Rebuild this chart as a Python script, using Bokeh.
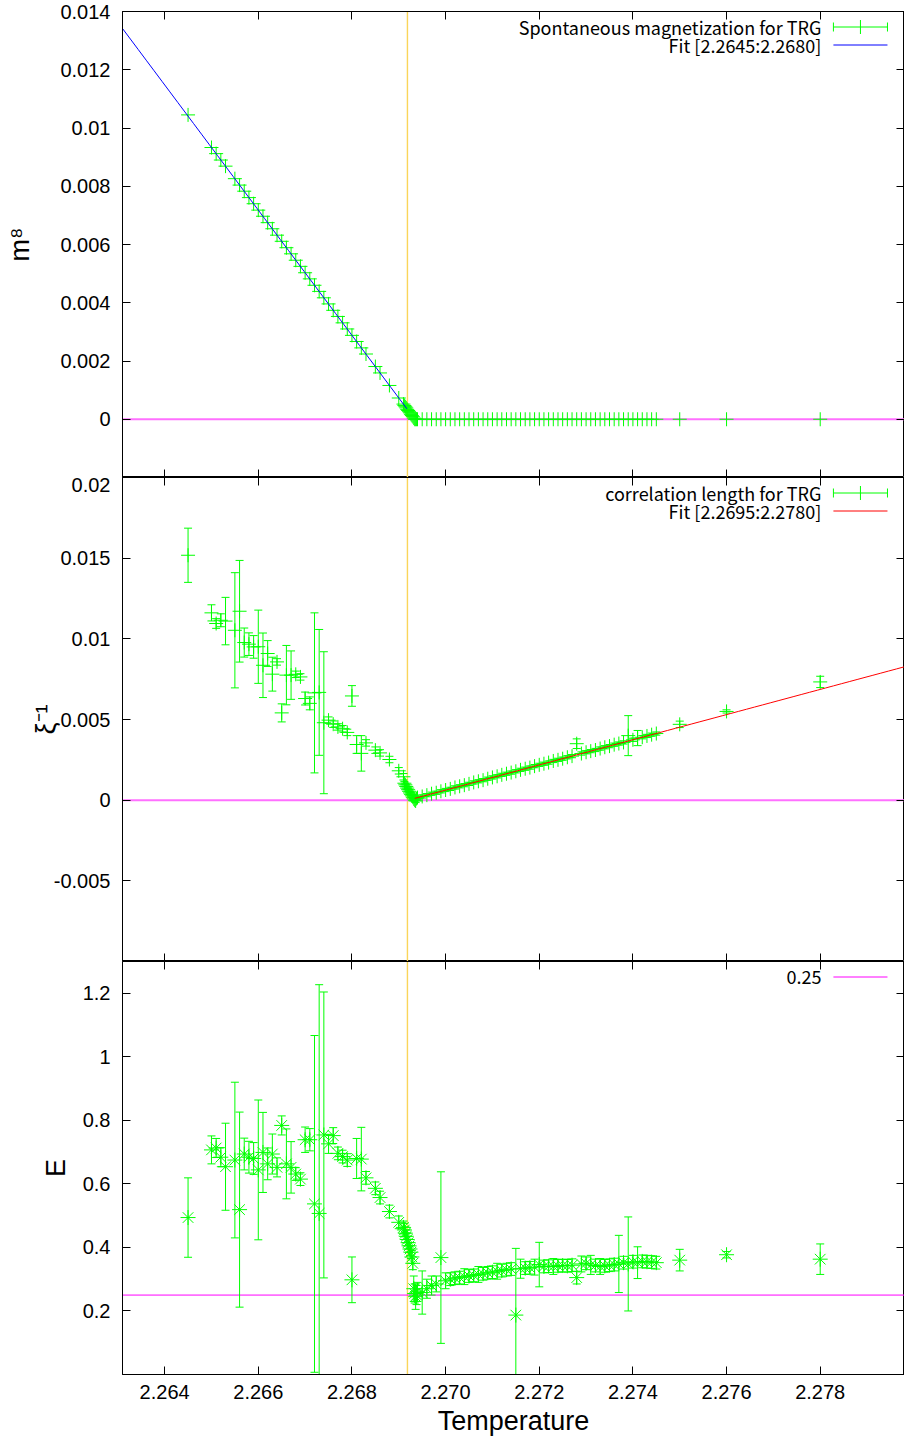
import numpy as np
from bokeh.plotting import figure
from bokeh.models import (ColumnDataSource, Whisker, TeeHead, Span, Label, Arrow,
                          LinearAxis, FixedTicker, Range1d)
from bokeh.layouts import column
from bokeh.embed import file_html
from bokeh.resources import INLINE

# ---------------- data ----------------
temperature = [
    2.2645, 2.2650, 2.2651, 2.2652, 2.2653, 2.2655, 2.2656, 2.2657, 2.2658, 2.2659,
    2.2660, 2.2661, 2.2662, 2.2663, 2.2664, 2.2665, 2.2666, 2.2667, 2.2668, 2.2669,
    2.2670, 2.2671, 2.2672, 2.2673, 2.2674, 2.2675, 2.2676, 2.2677, 2.2678, 2.2679,
    2.2680, 2.2681, 2.2682, 2.2683, 2.2685, 2.2686, 2.2688, 2.2690, 2.2691,
    2.26912, 2.26914, 2.26916, 2.26918, 2.26920, 2.26922, 2.26924, 2.26926,
    2.26928, 2.26930, 2.26932, 2.26934, 2.26936, 2.26938, 2.26940,
    2.2695, 2.2696, 2.2697, 2.2698, 2.2699, 2.2700, 2.2701, 2.2702, 2.2703, 2.2704,
    2.2705, 2.2706, 2.2707, 2.2708, 2.2709, 2.2710, 2.2711, 2.2712, 2.2713, 2.2714,
    2.2715, 2.2716, 2.2717, 2.2718, 2.2719, 2.2720, 2.2721, 2.2722, 2.2723, 2.2724,
    2.2725, 2.2726, 2.2727, 2.2728, 2.2729, 2.2730, 2.2731, 2.2732, 2.2733, 2.2734,
    2.2735, 2.2736, 2.2737, 2.2738, 2.2739, 2.2740, 2.2741, 2.2742, 2.2743, 2.2744,
    2.2745, 2.2750, 2.2760, 2.2780,
]

magnetization8 = [
    0.01045, 0.00933, 0.00912, 0.00890, 0.00869, 0.00826, 0.00804, 0.00783, 0.00761, 0.00740,
    0.00718, 0.00697, 0.00675, 0.00654, 0.00632, 0.00611, 0.00589, 0.00568, 0.00546, 0.00525,
    0.00503, 0.00482, 0.00460, 0.00439, 0.00417, 0.00396, 0.00374, 0.00353, 0.00331, 0.00310,
    0.00288, 0.00267, 0.00245, 0.00224, 0.00181, 0.00159, 0.00116, 0.00073, 0.00052,
    0.00047, 0.00043, 0.00039, 0.00034, 0.00030, 0.00026, 0.00022, 0.00017,
    0.00013, 0.00009, 0.00004, 0.0, 0.0, 0.0, 0.0,
    0.0, 0.0, 0.0, 0.0, 0.0, 0.0, 0.0, 0.0, 0.0, 0.0,
    0.0, 0.0, 0.0, 0.0, 0.0, 0.0, 0.0, 0.0, 0.0, 0.0,
    0.0, 0.0, 0.0, 0.0, 0.0, 0.0, 0.0, 0.0, 0.0, 0.0,
    0.0, 0.0, 0.0, 0.0, 0.0, 0.0, 0.0, 0.0, 0.0, 0.0,
    0.0, 0.0, 0.0, 0.0, 0.0, 0.0, 0.0, 0.0, 0.0, 0.0,
    0.0, 0.0, 0.0, 0.0,
]

inv_corr_length = [
    0.01518, 0.01161, 0.01095, 0.01115, 0.01110, 0.01053, 0.01171, 0.00977, 0.00967, 0.00950,
    0.00951, 0.00836, 0.00909, 0.00781, 0.00857, 0.00541, 0.00775, 0.00775, 0.00780, 0.00764,
    0.00630, 0.00600, 0.00665, 0.00668, 0.00480, 0.00496, 0.00471, 0.00454, 0.00443, 0.00420,
    0.00646, 0.00345, 0.00290, 0.00355, 0.00310, 0.00293, 0.00252, 0.00182, 0.00145,
    0.00105, 0.00095, 0.00085, 0.00075, 0.00065, 0.00055, 0.00045, 0.00036,
    0.00027, 0.00018, 0.00008, 0.00000, -0.00005, 0.00010, 0.00016,
    0.00023, 0.00031, 0.00040, 0.00046, 0.00055, 0.00063, 0.00070, 0.00079, 0.00086, 0.00093,
    0.00101, 0.00110, 0.00117, 0.00124, 0.00133, 0.00141, 0.00148, 0.00157, 0.00164, 0.00171,
    0.00179, 0.00188, 0.00195, 0.00202, 0.00211, 0.00219, 0.00226, 0.00233, 0.00243, 0.00250,
    0.00257, 0.00266, 0.00273, 0.00350, 0.00289, 0.00297, 0.00304, 0.00311, 0.00320, 0.00328,
    0.00335, 0.00344, 0.00351, 0.00358, 0.00400, 0.00374, 0.00385, 0.00390, 0.00398, 0.00406,
    0.00413, 0.00470, 0.00550, 0.00733,
]

inv_corr_length_err = [
    0.00168, 0.00050, 0.00030, 0.00040, 0.00147, 0.00357, 0.00315, 0.00090, 0.00070, 0.00070,
    0.00227, 0.00200, 0.00080, 0.00105, 0.00020, 0.00056, 0.00184, 0.00150, 0.00020, 0.00020,
    0.00040, 0.00040, 0.00496, 0.00390, 0.00440, 0.00020, 0.00020, 0.00020, 0.00020, 0.00020,
    0.00064, 0.00055, 0.00110, 0.00020, 0.00020, 0.00020, 0.00020, 0.00020, 0.00020,
    0.0001, 0.0001, 0.0001, 0.0001, 0.0001, 0.0001, 0.0001, 0.0001,
    0.0001, 0.0001, 0.0001, 0.0001, 0.0001, 0.0001, 0.0001,
    0.0001, 0.0001, 0.0001, 0.0001, 0.0001, 0.0001, 0.0001, 0.0001, 0.0001, 0.0001,
    0.0001, 0.0001, 0.0001, 0.0001, 0.0001, 0.0001, 0.0001, 0.0001, 0.0001, 0.0001,
    0.0001, 0.0001, 0.0001, 0.0001, 0.0001, 0.0001, 0.0001, 0.0001, 0.0001, 0.0001,
    0.0001, 0.0001, 0.0001, 0.0003, 0.0001, 0.0001, 0.0001, 0.0001, 0.0001, 0.0001,
    0.0001, 0.0001, 0.0001, 0.0001, 0.00124, 0.0001, 0.00047, 0.0001, 0.0001, 0.0001,
    0.0001, 0.0002, 0.0001, 0.00035,
]

energy = [
    0.494, 0.707, 0.713, 0.684, 0.654, 0.675, 0.519, 0.694, 0.684, 0.680,
    0.644, 0.699, 0.663, 0.694, 0.652, 0.784, 0.663, 0.652, 0.631, 0.615,
    0.739, 0.739, 0.537, 0.507, 0.754, 0.726, 0.752, 0.696, 0.686, 0.675,
    0.298, 0.680, 0.678, 0.619, 0.586, 0.557, 0.513, 0.479, 0.463,
    0.455, 0.445, 0.435, 0.425, 0.415, 0.405, 0.395, 0.385,
    0.370, 0.350, 0.270, 0.255, 0.245, 0.250, 0.260,
    0.258, 0.270, 0.280, 0.285, 0.368, 0.295, 0.300, 0.303, 0.305, 0.308,
    0.310, 0.312, 0.315, 0.317, 0.320, 0.322, 0.325, 0.327, 0.330, 0.332,
    0.187, 0.333, 0.335, 0.336, 0.338, 0.346, 0.340, 0.341, 0.340, 0.342,
    0.343, 0.342, 0.344, 0.305, 0.348, 0.350, 0.345, 0.343, 0.340, 0.342,
    0.344, 0.346, 0.348, 0.352, 0.348, 0.355, 0.352, 0.356, 0.355, 0.354,
    0.352, 0.360, 0.377, 0.363,
]

energy_err = [
    0.125, 0.044, 0.030, 0.030, 0.137, 0.245, 0.307, 0.050, 0.050, 0.050,
    0.220, 0.126, 0.050, 0.063, 0.030, 0.030, 0.110, 0.081, 0.020, 0.020,
    0.040, 0.035, 0.530, 0.720, 0.450, 0.030, 0.025, 0.020, 0.020, 0.020,
    0.072, 0.063, 0.100, 0.020, 0.020, 0.020, 0.020, 0.020, 0.020,
    0.020, 0.020, 0.020, 0.020, 0.020, 0.020, 0.020, 0.020,
    0.020, 0.020, 0.040, 0.030, 0.040, 0.030, 0.030,
    0.068, 0.030, 0.030, 0.025, 0.270, 0.025, 0.020, 0.020, 0.020, 0.025,
    0.020, 0.020, 0.025, 0.020, 0.020, 0.020, 0.025, 0.020, 0.020, 0.020,
    0.210, 0.030, 0.020, 0.020, 0.025, 0.070, 0.020, 0.020, 0.025, 0.020,
    0.020, 0.020, 0.020, 0.020, 0.025, 0.020, 0.030, 0.020, 0.025, 0.020,
    0.020, 0.020, 0.090, 0.020, 0.148, 0.020, 0.050, 0.020, 0.020, 0.020,
    0.020, 0.034, 0.010, 0.048,
]

# fit parameters (linear fits drawn as functions, positive part only)
fit_m8_slope, fit_m8_tc = 2.15, 2.26934
fit_xi_slope, fit_xi_tc = 0.78, 2.2692
exact_tc = 2.269185
energy_ref = 0.25

x_ticks = [2.264, 2.266, 2.268, 2.270, 2.272, 2.274, 2.276, 2.278]
x_tick_labels = ["2.264", "2.266", "2.268", "2.270", "2.272", "2.274", "2.276", "2.278"]
m8_ticks = [0.0, 0.002, 0.004, 0.006, 0.008, 0.010, 0.012, 0.014]
m8_tick_labels = ["0", "0.002", "0.004", "0.006", "0.008", "0.01", "0.012", "0.014"]
xi_ticks = [-0.005, 0.0, 0.005, 0.010, 0.015, 0.020]
xi_tick_labels = ["-0.005", "0", "0.005", "0.01", "0.015", "0.02"]
e_ticks = [0.2, 0.4, 0.6, 0.8, 1.0, 1.2]
e_tick_labels = ["0.2", "0.4", "0.6", "0.8", "1", "1.2"]

# ---------------- layout / style ----------------
X_START, X_END = 2.2631, 2.2798
FIG_W = 904
LEFT = 122
FRAME_W = FIG_W - LEFT - 1
GREEN = "#00ff00"
TC_COLOR = "#fad55a"
TICK_FONT = "Liberation Sans"
KEY_FONT = "Noto Sans CJK JP"

xr = Range1d(X_START, X_END)
T = np.array(temperature)


def style_axis(ax, ticks, labels=None):
    ax.ticker = FixedTicker(ticks=ticks)
    ax.major_tick_in = 8
    ax.major_tick_out = 0
    ax.minor_tick_line_color = None
    ax.axis_line_color = "black"
    ax.major_tick_line_color = "black"
    if labels is None:
        ax.major_label_text_font_size = "0px"
        ax.major_label_standoff = 0
        ax.major_label_text_alpha = 0
    else:
        ax.major_label_overrides = {t: s for t, s in zip(ticks, labels)}
        ax.major_label_text_font = TICK_FONT
        ax.major_label_text_font_size = "20px"
        ax.major_label_text_color = "black"


def make_panel(height, yr, yticks, ylabels, ylabel, top_border, bottom_border, lab_standoff, show_x):
    p = figure(width=FIG_W, height=height, x_range=xr, y_range=Range1d(*yr),
               output_backend="svg", toolbar_location=None,
               min_border_left=LEFT, min_border_right=0,
               min_border_top=top_border, min_border_bottom=bottom_border,
               background_fill_color="white", border_fill_color="white")
    p.grid.visible = False
    p.outline_line_color = "black"
    p.outline_line_width = 1
    ya = p.yaxis[0]
    style_axis(ya, yticks, ylabels)
    ya.major_label_standoff = 12
    ya.axis_label = ylabel
    ya.axis_label_text_font = TICK_FONT
    ya.axis_label_text_font_size = "27px"
    ya.axis_label_text_font_style = "normal"
    ya.axis_label_text_color = "black"
    ya.axis_label_standoff = lab_standoff
    xa = p.xaxis[0]
    if show_x:
        style_axis(xa, x_ticks, x_tick_labels)
        xa.major_label_standoff = 10
        xa.axis_label = "Temperature"
        xa.axis_label_text_font = TICK_FONT
        xa.axis_label_text_font_size = "27px"
        xa.axis_label_text_font_style = "normal"
        xa.axis_label_text_color = "black"
        xa.axis_label_standoff = 4
    else:
        style_axis(xa, x_ticks)
    top_ax = LinearAxis()
    style_axis(top_ax, x_ticks)
    p.add_layout(top_ax, "above")
    right_ax = LinearAxis()
    style_axis(right_ax, yticks)
    p.add_layout(right_ax, "right")
    p.add_layout(Span(location=exact_tc, dimension="height", line_color=TC_COLOR,
                      line_width=1.4, level="underlay"))
    return p


def key_entry(p, row, text, kind, color, yr, frame_h):
    dx = (X_END - X_START) / FRAME_W
    dy = (yr[1] - yr[0]) / frame_h
    yy = yr[1] - (15.5 + 18 * row) * dy
    p.add_layout(Label(x=X_END - 83 * dx, y=yy, text=text, text_align="right",
                       text_baseline="middle", text_font=KEY_FONT,
                       text_font_size="18px", text_color="black"))
    if kind == "err":
        p.add_layout(Arrow(start=TeeHead(size=9, line_color=color, line_width=1),
                           end=TeeHead(size=9, line_color=color, line_width=1),
                           x_start=X_END - 71 * dx, y_start=yy, x_end=X_END - 17 * dx, y_end=yy,
                           line_color=color, line_width=1))
        p.add_layout(Arrow(end=None, x_start=X_END - 44 * dx, y_start=yy - 7 * dy,
                           x_end=X_END - 44 * dx, y_end=yy + 7 * dy,
                           line_color=color, line_width=1))
    else:
        p.add_layout(Arrow(end=None, x_start=X_END - 71 * dx, y_start=yy,
                           x_end=X_END - 17 * dx, y_end=yy, line_color=color, line_width=1))


x_fit = np.linspace(X_START, X_END, 100)

# ---- top: m^8 ----
yr1 = (-0.002, 0.014)
p1 = make_panel(477, yr1, m8_ticks, m8_tick_labels, "m\u2078", 11, 0, 22, False)
p1.add_layout(Span(location=0.0, dimension="width", line_color="#ff70ff", line_width=2, level="underlay"))
src1 = ColumnDataSource(dict(T=T, v=np.array(magnetization8)))
p1.scatter("T", "v", source=src1, marker="cross", size=14, line_color=GREEN, line_width=1)
m8_fit = fit_m8_slope * (fit_m8_tc - x_fit)
k1 = m8_fit > 0
p1.line(x_fit[k1], m8_fit[k1], line_color="#0000ff", line_width=1)
key_entry(p1, 0, "Spontaneous magnetization for TRG", "err", GREEN, yr1, 466)
key_entry(p1, 1, "Fit [2.2645:2.2680]", "line", "#0000ff", yr1, 466)

# ---- middle: 1/xi ----
yr2 = (-0.01, 0.02)
p2 = make_panel(484, yr2, xi_ticks, xi_tick_labels, "\u03be\u207b\u00b9", 0, 0, -10, False)
p2.add_layout(Span(location=0.0, dimension="width", line_color="#ff70ff", line_width=2, level="underlay"))
xi = np.array(inv_corr_length)
xe = np.array(inv_corr_length_err)
src2 = ColumnDataSource(dict(T=T, v=xi, lo=xi - xe, hi=xi + xe))
p2.add_layout(Whisker(source=src2, base="T", lower="lo", upper="hi", dimension="height",
                      line_color=GREEN, line_width=1,
                      lower_head=TeeHead(size=8, line_color=GREEN, line_width=1),
                      upper_head=TeeHead(size=8, line_color=GREEN, line_width=1)))
p2.scatter("T", "v", source=src2, marker="cross", size=14, line_color=GREEN, line_width=1)
xi_fit = fit_xi_slope * (x_fit - fit_xi_tc)
k2 = xi_fit > 0
p2.line(x_fit[k2], xi_fit[k2], line_color="#ff0000", line_width=1)
key_entry(p2, 0, "correlation length for TRG", "err", GREEN, yr2, 484)
key_entry(p2, 1, "Fit [2.2695:2.2780]", "line", "#ff0000", yr2, 484)

# ---- bottom: E ----
yr3 = (0.0, 1.3)
p3 = make_panel(477, yr3, e_ticks, e_tick_labels, "E", 0, 64, 9, True)
p3.add_layout(Span(location=energy_ref, dimension="width", line_color="#ff00ff", line_width=1, level="underlay"))
ev = np.array(energy)
ee = np.array(energy_err)
src3 = ColumnDataSource(dict(T=T, v=ev, lo=ev - ee, hi=ev + ee))
p3.add_layout(Whisker(source=src3, base="T", lower="lo", upper="hi", dimension="height",
                      line_color=GREEN, line_width=1,
                      lower_head=TeeHead(size=8, line_color=GREEN, line_width=1),
                      upper_head=TeeHead(size=8, line_color=GREEN, line_width=1)))
p3.scatter("T", "v", source=src3, marker="asterisk", size=15, line_color=GREEN, line_width=1)
key_entry(p3, 0, "0.25", "line", "#ff00ff", yr3, 413)

layout = column(p1, p2, p3, spacing=0)
open("out.html", "w").write(file_html(layout, INLINE))
